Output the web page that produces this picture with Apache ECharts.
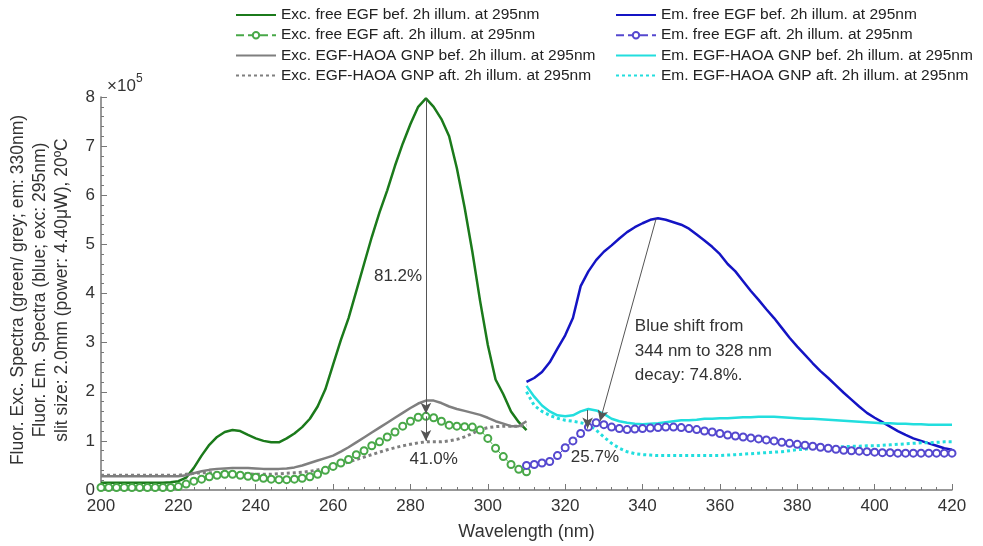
<!DOCTYPE html>
<html><head><meta charset="utf-8">
<script src="https://cdn.jsdelivr.net/npm/echarts@6/dist/echarts.min.js"></script>
<style>html,body{margin:0;padding:0;background:#fff}#c{width:983px;height:546px}</style>
</head><body><div id="c"></div>
<script>
// ---- data (intensity in units of 1e5) ----
const excWl = [200,202,204,206,208,210,212,214,216,218,220,222,224,226,228,230,232,234,236,238,240,242,244,246,248,250,252,254,256,258,260,262,264,266,268,270,272,274,276,278,280,282,284,286,288,290,292,294,296,298,300,302,304,306,308,310];
const excFreeBef = [0.15,0.15,0.15,0.15,0.15,0.15,0.15,0.15,0.15,0.16,0.18,0.25,0.45,0.7,0.92,1.08,1.18,1.22,1.2,1.12,1.05,1.0,0.97,0.97,1.05,1.15,1.28,1.45,1.7,2.05,2.55,3.05,3.5,4.05,4.6,5.15,5.65,6.1,6.6,7.05,7.45,7.8,7.97,7.8,7.55,7.2,6.55,5.75,4.85,3.85,2.95,2.25,1.95,1.6,1.38,1.22];
const excFreeAft = [0.05,0.05,0.05,0.05,0.05,0.05,0.05,0.05,0.05,0.05,0.07,0.12,0.18,0.22,0.27,0.3,0.32,0.32,0.3,0.28,0.26,0.24,0.22,0.21,0.21,0.22,0.24,0.27,0.32,0.4,0.48,0.55,0.62,0.72,0.8,0.9,0.98,1.08,1.18,1.3,1.4,1.48,1.5,1.47,1.4,1.32,1.3,1.29,1.28,1.22,1.05,0.85,0.68,0.52,0.42,0.37];
const excHaoaBef = [0.28,0.28,0.28,0.28,0.28,0.28,0.28,0.28,0.28,0.28,0.28,0.3,0.34,0.38,0.41,0.43,0.44,0.45,0.45,0.45,0.44,0.43,0.43,0.43,0.44,0.46,0.5,0.55,0.6,0.65,0.7,0.78,0.87,0.97,1.07,1.17,1.27,1.37,1.47,1.57,1.67,1.76,1.82,1.82,1.77,1.7,1.65,1.61,1.57,1.53,1.47,1.4,1.35,1.3,1.3,1.4];
const excHaoaAft = [0.3,0.3,0.3,0.3,0.3,0.3,0.3,0.3,0.3,0.3,0.3,0.32,0.34,0.35,0.35,0.35,0.35,0.34,0.33,0.33,0.32,0.32,0.32,0.33,0.34,0.35,0.36,0.38,0.41,0.45,0.49,0.53,0.57,0.62,0.67,0.72,0.77,0.82,0.86,0.9,0.93,0.96,0.98,0.98,0.98,1.0,1.03,1.08,1.15,1.23,1.27,1.29,1.3,1.3,1.3,1.32];

const emWl = [310,312,314,316,318,320,322,324,326,328,330,332,334,336,338,340,342,344,346,348,350,352,354,356,358,360,362,364,366,368,370,372,374,376,378,380,382,384,386,388,390,392,394,396,398,400,402,404,406,408,410,412,414,416,418,420];
const emFreeBef = [2.2,2.28,2.4,2.6,2.88,3.15,3.5,4.15,4.45,4.68,4.85,4.98,5.12,5.25,5.35,5.43,5.5,5.53,5.5,5.45,5.4,5.32,5.2,5.08,4.95,4.8,4.6,4.45,4.25,4.05,3.87,3.68,3.5,3.3,3.1,2.92,2.75,2.58,2.42,2.28,2.13,1.98,1.84,1.7,1.57,1.47,1.38,1.29,1.2,1.12,1.05,1.0,0.95,0.9,0.85,0.82];
const emFreeAft = [0.5,0.52,0.55,0.58,0.7,0.86,1.0,1.15,1.28,1.37,1.33,1.28,1.25,1.23,1.24,1.25,1.26,1.27,1.28,1.28,1.27,1.25,1.23,1.2,1.18,1.15,1.12,1.1,1.08,1.06,1.04,1.02,1.0,0.97,0.95,0.93,0.91,0.89,0.87,0.85,0.83,0.81,0.8,0.79,0.78,0.77,0.76,0.76,0.75,0.75,0.75,0.75,0.75,0.75,0.75,0.75];
const emHaoaBef = [2.12,1.9,1.72,1.6,1.52,1.5,1.52,1.6,1.65,1.62,1.55,1.45,1.4,1.37,1.35,1.34,1.35,1.36,1.38,1.4,1.42,1.42,1.43,1.45,1.45,1.46,1.46,1.47,1.48,1.48,1.49,1.49,1.49,1.48,1.47,1.46,1.45,1.45,1.44,1.43,1.42,1.41,1.4,1.39,1.38,1.37,1.36,1.36,1.35,1.35,1.34,1.34,1.33,1.33,1.33,1.33];
const emHaoaAft = [2.0,1.72,1.6,1.52,1.46,1.42,1.4,1.37,1.33,1.22,1.08,0.95,0.85,0.78,0.74,0.72,0.71,0.7,0.7,0.7,0.7,0.7,0.7,0.7,0.7,0.7,0.71,0.72,0.73,0.74,0.75,0.76,0.77,0.78,0.8,0.82,0.83,0.85,0.86,0.87,0.88,0.88,0.89,0.89,0.9,0.9,0.91,0.92,0.93,0.94,0.95,0.96,0.96,0.97,0.98,0.98];

const seriesNames = [
  'Exc. free EGF bef. 2h illum. at 295nm',
  'Exc. free EGF aft. 2h illum. at 295nm',
  'Exc. EGF-HAOA GNP bef. 2h illum. at 295nm',
  'Exc. EGF-HAOA GNP aft. 2h illum. at 295nm',
  'Em. free EGF bef. 2h illum. at 295nm',
  'Em. free EGF aft. 2h illum. at 295nm',
  'Em. EGF-HAOA GNP bef. 2h illum. at 295nm',
  'Em. EGF-HAOA GNP aft. 2h illum. at 295nm'
];
const xTicks = [200,220,240,260,280,300,320,340,360,380,400,420];
const yTicks = [0,1,2,3,4,5,6,7,8];

// annotations: [x1,y1,x2,y2]
const arrows = [[284,7.95,284,1.55],[284,1.5,284,1.0],[343.5,5.52,329,1.4],[325.8,1.63,325.8,1.25]];
const notes = [
  {t:'81.2%', x:276.8, y:4.36},
  {t:'41.0%', x:286, y:0.63},
  {t:'25.7%', x:327.7, y:0.67},
  {t:'Blue shift from', x:338, y:3.33, left:true},
  {t:'344 nm to 328 nm', x:338, y:2.83, left:true},
  {t:'decay: 74.8%.', x:338, y:2.34, left:true}
];

(function(){
const pair = (xs, ys) => xs.map((x,i)=>[x, ys[i]]);
const FONT = '"Liberation Sans", Arial, sans-serif';

const chart = echarts.init(document.getElementById('c'), null, {renderer:'canvas'});

function lineSeries(name, xs, ys, color, opts) {
  return Object.assign({
    name, type:'line', data: pair(xs, ys), showSymbol:false, symbol:'none',
    lineStyle:{color, width:2.5}, itemStyle:{color}, animation:false, z:2
  }, opts || {});
}

const arrowMark = (list) => ({
  silent:true, symbol:['none','arrow'], symbolSize:[8,11], animation:false,
  label:{show:false},
  lineStyle:{color:'#555', width:1, type:'solid'},
  data: list.map(a => [{coord:[a[0],a[1]]},{coord:[a[2],a[3]]}])
});

const series = [
  lineSeries(seriesNames[0], excWl, excFreeBef, '#1b7a1b'),
  lineSeries(seriesNames[1], excWl, excFreeAft, '#48a848', {
    showSymbol:true, symbol:'emptyCircle', symbolSize:7,
    lineStyle:{color:'#48a848', width:1, type:'dashed'},
    itemStyle:{color:'#48a848', borderWidth:1.3}
  }),
  lineSeries(seriesNames[2], excWl, excHaoaBef, '#7f7f7f'),
  lineSeries(seriesNames[3], excWl, excHaoaAft, '#7f7f7f', {lineStyle:{color:'#7f7f7f', width:3, type:[3,3]}}),
  lineSeries(seriesNames[4], emWl, emFreeBef, '#1414c4'),
  lineSeries(seriesNames[5], emWl, emFreeAft, '#5548cf', {
    showSymbol:true, symbol:'emptyCircle', symbolSize:7,
    lineStyle:{color:'#5548cf', width:1, type:'dashed'},
    itemStyle:{color:'#5548cf', borderWidth:1.3}
  }),
  lineSeries(seriesNames[6], emWl, emHaoaBef, '#22dede'),
  lineSeries(seriesNames[7], emWl, emHaoaAft, '#22dede', {lineStyle:{color:'#22dede', width:3, type:[3,3]}}),
  {type:'line', data:[], markLine: arrowMark(arrows), z:5, animation:false}
];

const hasMarker = [false, true, false, false, false, true, false, false];
const legendItems = seriesNames.map((n,i) => hasMarker[i] ? {name:n} : {name:n, itemStyle:{opacity:0}});

const legendCommon = {
  orient:'vertical', itemWidth:40, itemHeight:8, itemGap:4.2,
  textStyle:{fontFamily:FONT, fontSize:15.5, color:'#222', padding:[0,0,0,0]},
  selectedMode:false, padding:0
};

chart.setOption({
  animation:false,
  backgroundColor:'#fff',
  grid:{left:101, right:31, top:97, bottom:53, containLabel:false},
  legend:[
    Object.assign({data:legendItems.slice(0,4), left:235, top:7}, legendCommon),
    Object.assign({data:legendItems.slice(4,8), left:615, top:7}, legendCommon)
  ],
  xAxis:{
    type:'value', min:200, max:420, interval:20,
    name:'Wavelength (nm)', nameLocation:'middle', nameGap:33,
    nameTextStyle:{fontFamily:FONT, fontSize:18, color:'#333'},
    axisLine:{lineStyle:{color:'#777', width:1.5}},
    axisTick:{inside:true, length:6, lineStyle:{color:'#777'}},
    minorTick:{show:true, splitNumber:5, length:3, lineStyle:{color:'#777'}},
    splitLine:{show:false},
    axisLabel:{fontFamily:FONT, fontSize:17, color:'#333', margin:8}
  },
  yAxis:{
    type:'value', min:0, max:8, interval:1,
    axisLine:{show:true, lineStyle:{color:'#777', width:1.5}},
    axisTick:{show:true, inside:true, length:6, lineStyle:{color:'#777'}},
    minorTick:{show:true, splitNumber:5, length:3, lineStyle:{color:'#777'}},
    splitLine:{show:false},
    axisLabel:{fontFamily:FONT, fontSize:17, color:'#333', margin:6}
  },
  series
});

const g = [];
notes.forEach(n => {
  const p = chart.convertToPixel({gridIndex:0}, [n.x, n.y]);
  g.push({type:'text', x:p[0], y:p[1], z:10, style:{text:n.t, fontFamily:FONT, fontSize:17,
    fill:'#333', align: n.left ? 'left' : 'center', verticalAlign:'middle'}});
});
g.push({type:'text', x:40, y:290, rotation:Math.PI/2, z:10,
  style:{text:'Fluor. Exc. Spectra (green/ grey; em: 330nm)\nFluor. Em. Spectra (blue; exc: 295nm)\nslit size: 2.0mm (power: 4.40\u03bcW), 20\u00baC',
    fontFamily:FONT, fontSize:17.5, lineHeight:22, fill:'#333', align:'center', verticalAlign:'middle'}});
const tl = chart.convertToPixel({gridIndex:0}, [200, 8]);
g.push({type:'text', x:tl[0]+6, y:tl[1]-11, z:10,
  style:{text:'\u00d710', fontFamily:FONT, fontSize:17, fill:'#333', verticalAlign:'middle'}});
g.push({type:'text', x:tl[0]+35, y:tl[1]-18, z:10,
  style:{text:'5', fontFamily:FONT, fontSize:12, fill:'#333', verticalAlign:'middle'}});
chart.setOption({graphic:g});
})();
</script>
</body></html>
